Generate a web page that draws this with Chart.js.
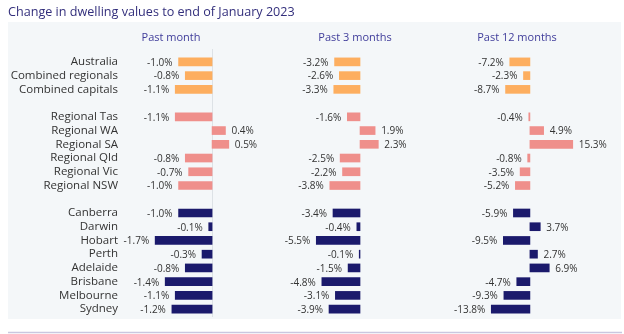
<!DOCTYPE html>
<html>
<head>
<meta charset="utf-8">
<script src="https://cdn.jsdelivr.net/npm/chart.js@4/dist/chart.umd.min.js"></script>
<style>
  html, body { margin: 0; padding: 0; background: #fff; }
  #wrap { width: 624px; height: 334px; }
</style>
</head>
<body>
<div id="wrap"><canvas id="dwellingChart"></canvas></div>
<script>
// rows, in the order they are shown (blank rows split the groups)
const summaryRows = ['Australia', 'Combined regionals', 'Combined capitals'];
const regionalRows = ['Regional Tas', 'Regional WA', 'Regional SA', 'Regional Qld', 'Regional Vic', 'Regional NSW'];
const capitalRows = ['Canberra', 'Darwin', 'Hobart', 'Perth', 'Adelaide', 'Brisbane', 'Melbourne', 'Sydney'];
const categories = [...summaryRows, '', ...regionalRows, ' ', ...capitalRows];

// % change, null on the blank rows
const pastMonth = [-1.0, -0.8, -1.1, null, -1.1, 0.4, 0.5, -0.8, -0.7, -1.0, null, -1.0, -0.1, -1.7, -0.3, -0.8, -1.4, -1.1, -1.2];
const past3Months = [-3.2, -2.6, -3.3, null, -1.6, 1.9, 2.3, -2.5, -2.2, -3.8, null, -3.4, -0.4, -5.5, -0.1, -1.5, -4.8, -3.1, -3.9];
const past12Months = [-7.2, -2.3, -8.7, null, -0.4, 4.9, 15.3, -0.8, -3.5, -5.2, null, -5.9, 3.7, -9.5, 2.7, 6.9, -4.7, -9.3, -13.8];

const panelTitles = ['Past month', 'Past 3 months', 'Past 12 months'];

const FONT = '"Open Sans", "Liberation Sans", sans-serif';
const colours = { summary: '#fdae5f', regional: '#ef8f8b', capital: '#1b1a6c' };

function barColour(ctx) {
  const label = categories[ctx.dataIndex];
  if (summaryRows.includes(label)) return colours.summary;
  if (regionalRows.includes(label)) return colours.regional;
  return colours.capital;
}

// one x scale per panel, stacked side by side across the chart area
// (top boxes are laid out by descending weight, so the first panel gets the largest)
const panels = [
  { id: 'm1', min: -2.69, max: 1.79, weight: 150, order: 3, titleX: 171, zeroLine: true },
  { id: 'm3', min: -11.07, max: 10.31, weight: 170, order: 2, titleX: 355 },
  { id: 'm12', min: -31.4, max: 28.6, weight: 168, order: 1, titleX: 517 }
];
const seriesValues = [pastMonth, past3Months, past12Months];

const scales = {
  y: {
    grid: { display: false, drawTicks: false },
    border: { display: false },
    ticks: { color: '#333', padding: 4, autoSkip: false, font: { family: FONT, size: 11.5 } },
    afterFit: (s) => { s.width = 114; }
  }
};
panels.forEach((p) => {
  scales[p.id] = {
    type: 'linear', axis: 'x', position: 'top', display: false,
    min: p.min, max: p.max, stack: 'panels', stackWeight: p.weight, weight: p.order
  };
});

const decorations = {
  id: 'decorations',
  beforeDraw(chart) {
    const c = chart.ctx;
    c.save();
    c.fillStyle = '#f4f7f9';
    c.fillRect(8, 22, 613, 297);
    c.strokeStyle = '#c9c7e0';
    c.lineWidth = 1.5;
    c.beginPath();
    c.moveTo(8, 332.5);
    c.lineTo(622, 332.5);
    c.stroke();
    c.restore();
  },
  beforeDatasetsDraw(chart) {
    const c = chart.ctx;
    const area = chart.chartArea;
    c.save();
    c.strokeStyle = '#dde2e6';
    c.lineWidth = 1;
    panels.filter(p => p.zeroLine).forEach((p) => {
      const x = Math.round(chart.scales[p.id].getPixelForValue(0)) + 0.5;
      c.beginPath();
      c.moveTo(x, area.top - 6);
      c.lineTo(x, area.bottom + 1);
      c.stroke();
    });
    c.restore();
  },
  afterDatasetsDraw(chart) {
    const c = chart.ctx;
    c.save();
    c.font = '10px ' + FONT;
    c.fillStyle = '#333';
    c.textBaseline = 'middle';
    chart.data.datasets.forEach((ds, i) => {
      chart.getDatasetMeta(i).data.forEach((bar, j) => {
        const v = ds.data[j];
        if (v === null) return;
        const neg = v < 0;
        c.textAlign = neg ? 'right' : 'left';
        c.fillText(v.toFixed(1) + '%', bar.x + (neg ? -6 : 6), bar.y + 1);
      });
    });
    c.font = '11px ' + FONT;
    c.fillStyle = '#3f3c9a';
    c.textAlign = 'center';
    panels.forEach((p, i) => c.fillText(panelTitles[i], p.titleX, 38));
    c.restore();
  }
};

new Chart(document.getElementById('dwellingChart'), {
  type: 'bar',
  data: {
    labels: categories,
    datasets: panels.map((p, i) => ({
      label: panelTitles[i],
      data: seriesValues[i],
      xAxisID: p.id,
      backgroundColor: barColour,
      barThickness: 8,
      grouped: false
    }))
  },
  options: {
    indexAxis: 'y',
    responsive: true,
    maintainAspectRatio: false,
    animation: false,
    layout: { padding: { left: 8, right: 14, top: 0, bottom: 18 } },
    scales: scales,
    plugins: {
      legend: { display: false },
      tooltip: { enabled: false },
      title: {
        display: true,
        text: 'Change in dwelling values to end of January 2023',
        align: 'start',
        color: '#332f7c',
        font: { family: FONT, size: 12.6, weight: 'normal' },
        padding: { top: 4.5, bottom: 35.4 }
      }
    }
  },
  plugins: [decorations]
});
</script>
</body>
</html>
